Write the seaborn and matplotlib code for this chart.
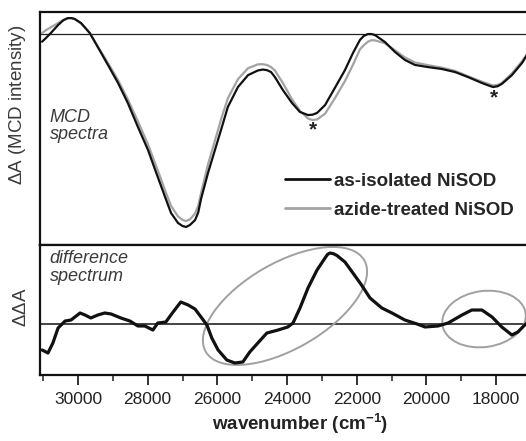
import numpy as np
import pandas as pd
import matplotlib
matplotlib.use("Agg")
import matplotlib.pyplot as plt
import matplotlib.transforms as mtransforms
from matplotlib.patches import Ellipse
import seaborn as sns

# MCD spectra (arbitrary units)
wn_top = [31030, 30920, 30780, 30570, 30420, 30290, 30180, 30090, 29910, 29660,
          29430, 29140, 28850, 28570, 28280, 27990, 27710, 27500, 27330, 27130,
          27000, 26900, 26790, 26640, 26550, 26470, 26270, 26070, 25870, 25700,
          25410, 25120, 24840, 24700, 24580, 24460, 24350, 24120, 23860, 23630,
          23400, 23270, 23140, 22910, 22630, 22340, 22110, 21910, 21800, 21680,
          21580, 21480, 21190, 20900, 20620, 20330, 19960, 19560, 19180, 18810,
          18410, 18220, 18090, 17960, 17840, 17550, 17260, 17100]
as_isolated = [-0.040, -0.021, 0.005, 0.047, 0.072, 0.083, 0.083, 0.078, 0.057, 0.005,
               -0.068, -0.161, -0.255, -0.359, -0.484, -0.604, -0.745, -0.849, -0.932, -0.984,
               -1.000, -1.005, -0.995, -0.969, -0.930, -0.860, -0.724, -0.604, -0.484, -0.380,
               -0.276, -0.214, -0.190, -0.185, -0.188, -0.198, -0.224, -0.292, -0.359, -0.406,
               -0.422, -0.420, -0.411, -0.370, -0.281, -0.188, -0.099, -0.031, -0.010, 0.000,
               0.000, -0.005, -0.042, -0.094, -0.135, -0.161, -0.172, -0.182, -0.198, -0.224,
               -0.255, -0.268, -0.276, -0.272, -0.260, -0.214, -0.151, -0.105]
azide_treated = [0.005, 0.020, 0.035, 0.057, 0.073, 0.083, 0.083, 0.078, 0.055, 0.005,
                 -0.065, -0.150, -0.240, -0.340, -0.455, -0.575, -0.710, -0.815, -0.895, -0.950,
                 -0.968, -0.974, -0.966, -0.935, -0.895, -0.830, -0.680, -0.555, -0.430, -0.335,
                 -0.235, -0.178, -0.158, -0.157, -0.161, -0.172, -0.190, -0.255, -0.340, -0.400,
                 -0.440, -0.448, -0.445, -0.415, -0.335, -0.245, -0.160, -0.080, -0.058, -0.040,
                 -0.032, -0.033, -0.048, -0.085, -0.122, -0.148, -0.162, -0.175, -0.192, -0.220,
                 -0.248, -0.260, -0.268, -0.265, -0.255, -0.205, -0.142, -0.100]

# difference spectrum
wn_diff = [31030, 30860, 30720, 30570, 30370, 30200, 29940, 29800, 29630, 29430,
           29230, 29050, 28770, 28510, 28280, 28080, 27850, 27710, 27480, 27270,
           27050, 26840, 26640, 26470, 26300, 26160, 25980, 25730, 25500, 25270,
           25070, 24840, 24580, 24260, 23980, 23830, 23630, 23400, 23140, 22910,
           22840, 22770, 22670, 22570, 22340, 22110, 21880, 21620, 21280, 20990,
           20620, 20270, 20040, 19670, 19380, 18980, 18700, 18410, 18120, 17840,
           17550, 17380, 17180, 17100]
diff = [-0.366, -0.408, -0.268, -0.056, 0.042, 0.056, 0.155, 0.127, 0.085, 0.127,
        0.155, 0.141, 0.085, 0.042, -0.028, -0.028, -0.085, 0.014, 0.028, 0.169,
        0.310, 0.268, 0.210, 0.099, -0.014, -0.197, -0.366, -0.507, -0.549, -0.535,
        -0.394, -0.268, -0.127, -0.085, -0.042, 0.014, 0.225, 0.507, 0.761, 0.930,
        0.980, 1.000, 0.990, 0.965, 0.873, 0.718, 0.560, 0.366, 0.225, 0.155,
        0.056, 0.000, -0.042, -0.028, 0.014, 0.127, 0.197, 0.197, 0.099, -0.042,
        -0.155, -0.113, -0.014, 0.020]

top_df = pd.DataFrame({"wn": wn_top + wn_top,
                       "dA": as_isolated + azide_treated,
                       "sample": ["as-isolated NiSOD"] * len(wn_top) + ["azide-treated NiSOD"] * len(wn_top)})
diff_df = pd.DataFrame({"wn": wn_diff, "ddA": diff})

sns.set_style("ticks")
plt.rcParams["font.family"] = ["Liberation Sans", "DejaVu Sans"]
plt.rcParams["mathtext.fontset"] = "custom"
plt.rcParams["mathtext.rm"] = "Liberation Sans"
plt.rcParams["mathtext.bf"] = "Liberation Sans:bold"

fig = plt.figure(figsize=(5.26, 4.41), dpi=100)
ax1 = fig.add_axes([0.076, 0.4444, 0.9886, 0.5283])
ax2 = fig.add_axes([0.076, 0.1497, 0.9886, 0.2948], sharex=ax1)

# top panel
sns.lineplot(data=top_df, x="wn", y="dA", hue="sample",
             palette={"as-isolated NiSOD": "#111111", "azide-treated NiSOD": "#a3a3a3"},
             hue_order=["azide-treated NiSOD", "as-isolated NiSOD"],
             linewidth=1.6, ax=ax1, sort=False)
ax1.axhline(0, color="#222222", lw=0.9, zorder=0)
ax1.set_xlim(31090, 16170)
ax1.set_ylim(-1.099, 0.1146)
ax1.set_xlabel("")
ax1.set_ylabel("")
ax1.set_yticks([])
ax1.tick_params(axis="x", which="both", bottom=False, labelbottom=False)

handles, labels = ax1.get_legend_handles_labels()
order = [labels.index("as-isolated NiSOD"), labels.index("azide-treated NiSOD")]
leg = ax1.legend([handles[i] for i in order], [labels[i] for i in order],
                 loc="center left", bbox_to_anchor=(0.471, 0.212), frameon=False,
                 borderpad=0, borderaxespad=0, handlelength=2.4, handletextpad=0.2,
                 labelspacing=0.62, prop={"weight": "bold", "size": 13.5})
for h in leg.get_lines():
    h.set_linewidth(2.0)

ax1.text(0.019, 0.585, "MCD\nspectra", transform=ax1.transAxes, ha="left", va="top",
         style="italic", fontsize=13, color="#3a3a3a", linespacing=1.05)
ax1.text(23260, -0.50, "*", ha="center", va="center", fontsize=15, fontweight="bold", color="#222222")
ax1.text(18060, -0.33, "*", ha="center", va="center", fontsize=15, fontweight="bold", color="#222222")

# bottom panel
sns.lineplot(data=diff_df, x="wn", y="ddA", color="#111111", linewidth=2.3, ax=ax2, sort=False)
ax2.axhline(0, color="#111111", lw=1.1, zorder=0)
ax2.set_ylim(-0.718, 1.113)
ax2.set_yticks([])
ax2.set_ylabel("")
ax2.set_xticks(np.arange(18000, 31000, 2000))
ax2.set_xticks(np.arange(17000, 32000, 1000), minor=True)
ax2.xaxis.set_major_formatter(matplotlib.ticker.FuncFormatter(lambda v, p: f"{int(v)}"))
ax2.tick_params(axis="x", which="major", direction="out", length=7.5, width=1.3,
                labelsize=12.5, pad=5, colors="#222222")
ax2.tick_params(axis="x", which="minor", direction="out", length=4, width=1.1, colors="#222222")
ax2.set_xlabel(r"wavenumber (cm$^{\mathbf{-1}}$)", fontsize=13.5, fontweight="bold",
               color="#222222", labelpad=3)
ax2.text(0.019, 0.96, "difference\nspectrum", transform=ax2.transAxes, ha="left", va="top",
         style="italic", fontsize=13, color="#3a3a3a", linespacing=1.05)

# gray ellipses marking regions (centres in data units, sizes in inches)
for cx, cy, w, h, ang in [(24060, 0.254, 1.83, 0.86, 30), (18350, 0.07, 0.84, 0.56, 8)]:
    tr = fig.dpi_scale_trans + mtransforms.ScaledTranslation(cx, cy, ax2.transData)
    ax2.add_patch(Ellipse((0, 0), w, h, angle=ang, transform=tr, fill=False,
                          edgecolor="#a0a0a0", lw=1.4, zorder=1))

for ax in (ax1, ax2):
    for s in ax.spines.values():
        s.set_linewidth(1.6)
        s.set_color("#111111")

fig.text(18 / 526, 1 - 105 / 441, r"$\Delta$A (MCD intensity)", rotation=90, ha="center",
         va="center", fontsize=13.5, color="#3a3a3a")
fig.text(22 / 526, 1 - 307 / 441, r"$\Delta\Delta$A", rotation=90, ha="center", va="center",
         fontsize=13.5, color="#3a3a3a")

fig.savefig("out.png", dpi=100)
